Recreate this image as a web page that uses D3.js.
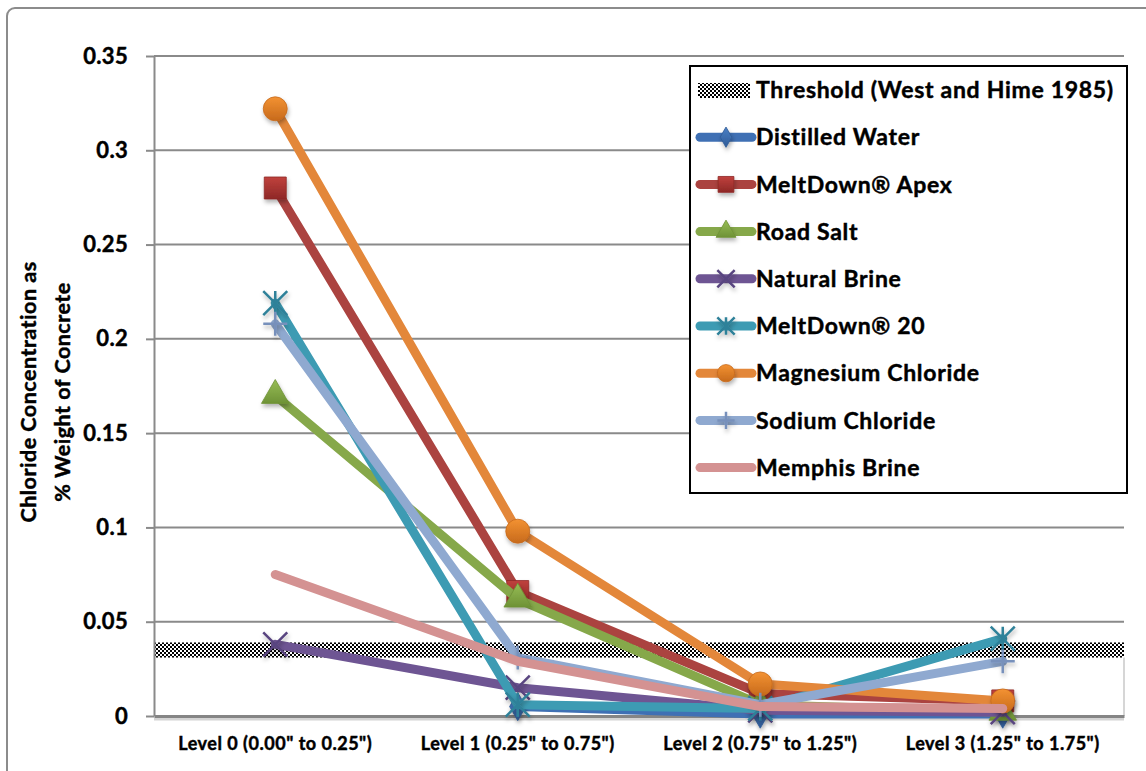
<!DOCTYPE html>
<html>
<head>
<meta charset="utf-8">
<script src="https://cdn.jsdelivr.net/npm/d3@7"></script>
<style>
  html, body { margin: 0; padding: 0; background: #fff; }
  svg { display: block; font-family: Lato, "Open Sans", sans-serif; font-weight: 700; }
  svg text { stroke: #000; stroke-width: 0.45px; }
</style>
</head>
<body>
<svg id="chart" width="1146" height="771"></svg>
<script>
// ---- data ----
const categories = ['Level 0 (0.00" to 0.25")', 'Level 1 (0.25" to 0.75")', 'Level 2 (0.75" to 1.25")', 'Level 3 (1.25" to 1.75")'];
const yTicks = [0, 0.05, 0.1, 0.15, 0.2, 0.25, 0.3, 0.35];
const thresholdBand = [0.031, 0.039];

const seriesNames = ["Distilled Water", "MeltDown® Apex", "Road Salt", "Natural Brine", "MeltDown® 20", "Magnesium Chloride", "Sodium Chloride", "Memphis Brine"];
const distilledWater    = [null, 0.005, 0.001, 0.001];
const meltDownApex      = [0.280, 0.066, 0.012, 0.008];
const roadSalt          = [0.170, 0.062, 0.006, 0.002];
const naturalBrine      = [0.038, 0.015, 0.003, 0.002];
const meltDown20        = [0.219, 0.006, 0.004, 0.041];
const magnesiumChloride = [0.322, 0.098, 0.017, 0.008];
const sodiumChloride    = [0.208, 0.031, 0.006, 0.029];
const memphisBrine      = [0.075, 0.029, 0.005, 0.004];
const seriesValues = [distilledWater, meltDownApex, roadSalt, naturalBrine, meltDown20, magnesiumChloride, sodiumChloride, memphisBrine];

// ---- styling ----
const lineColors = ["#3f70b4", "#ab4340", "#86a84a", "#6e5593", "#3d9bb3", "#e3873a", "#8fa9d0", "#d49292"];
const markerTop  = ["#4a80c6", "#c0413d", "#97bd55", "#7a60a2", "#4aaec8", "#f39232", "#9db7dc", "#dfa0a0"];
const markerBot  = ["#2f5b96", "#8e2826", "#6e9236", "#594480", "#2f8199", "#c76a1c", "#7790bb", "#c07f7f"];
const markerTypes = ["diamond", "square", "triangle", "x", "star", "circle", "plus", "dash"];

const svg = d3.select("#chart");
const plot = { left: 154, right: 1124, top: 56, bottom: 716 };

const defs = svg.append("defs");
const pat = defs.append("pattern").attr("id", "checker")
  .attr("patternUnits", "userSpaceOnUse").attr("width", 4).attr("height", 4);
pat.append("rect").attr("width", 4).attr("height", 4).attr("fill", "#fff");
pat.append("rect").attr("x", 0).attr("y", 0).attr("width", 2).attr("height", 2).attr("fill", "#000");
pat.append("rect").attr("x", 2).attr("y", 2).attr("width", 2).attr("height", 2).attr("fill", "#000");

const shadow = defs.append("filter").attr("id", "shadow")
  .attr("x", "-50%").attr("y", "-50%").attr("width", "200%").attr("height", "200%");
shadow.append("feDropShadow").attr("dx", 1).attr("dy", 3).attr("stdDeviation", 2)
  .attr("flood-color", "#000").attr("flood-opacity", 0.3);

seriesNames.forEach((n, i) => {
  const g = defs.append("linearGradient").attr("id", "grad" + i)
    .attr("x1", 0).attr("y1", 0).attr("x2", 0).attr("y2", 1);
  g.append("stop").attr("offset", "0%").attr("stop-color", markerTop[i]);
  g.append("stop").attr("offset", "100%").attr("stop-color", markerBot[i]);
});

// outer chart frame
svg.append("rect").attr("x", 7).attr("y", 8).attr("width", 1250).attr("height", 850)
  .attr("rx", 8).attr("fill", "#fff").attr("stroke", "#8c8c8c").attr("stroke-width", 2);

// ---- scales ----
const x = d3.scaleBand().domain(categories).range([plot.left, plot.right]);
const cx = c => x(c) + x.bandwidth() / 2;
const y = d3.scaleLinear().domain([0, 0.35]).range([plot.bottom, plot.top]);

// gridlines
svg.append("g").selectAll("line").data(yTicks.filter(t => t > 0)).join("line")
  .attr("x1", plot.left).attr("x2", plot.right)
  .attr("y1", d => y(d)).attr("y2", d => y(d))
  .attr("stroke", "#8a8a8a").attr("stroke-width", 2);

// threshold band and the area below it
svg.append("rect").attr("x", plot.left).attr("y", y(thresholdBand[0]))
  .attr("width", plot.right - plot.left).attr("height", y(0) - y(thresholdBand[0]))
  .attr("fill", "#fff");
svg.append("line").attr("x1", plot.right).attr("x2", plot.right)
  .attr("y1", y(thresholdBand[0])).attr("y2", y(0))
  .attr("stroke", "#c8c8c8").attr("stroke-width", 1.5);
svg.append("rect").attr("x", plot.left).attr("y", y(thresholdBand[1]))
  .attr("width", plot.right - plot.left).attr("height", y(thresholdBand[0]) - y(thresholdBand[1]))
  .attr("fill", "url(#checker)");

// y axis
const yAxis = svg.append("g").attr("transform", `translate(${plot.left},0)`)
  .call(d3.axisLeft(y).tickValues(yTicks).tickFormat(d3.format("~g")).tickSize(8).tickSizeOuter(0).tickPadding(18));
yAxis.select(".domain").attr("stroke", "#8a8a8a").attr("stroke-width", 2);
yAxis.selectAll(".tick line").attr("stroke", "#8a8a8a").attr("stroke-width", 2);
yAxis.selectAll(".tick text").attr("font-family", "Lato").attr("font-weight", 700)
  .attr("font-size", 22).attr("letter-spacing", 0.3).attr("fill", "#000");

// x axis
svg.append("line").attr("x1", plot.left).attr("x2", plot.right)
  .attr("y1", plot.bottom + 3).attr("y2", plot.bottom + 3)
  .attr("stroke", "#d4d4d4").attr("stroke-width", 3);
const xAxis = svg.append("g").attr("transform", `translate(0,${plot.bottom})`)
  .call(d3.axisBottom(x).tickSize(0).tickPadding(21));
xAxis.select(".domain").attr("stroke", "#858585").attr("stroke-width", 3);
xAxis.selectAll(".tick text").attr("font-family", "Lato").attr("font-weight", 700)
  .attr("font-size", 18).attr("letter-spacing", 0.5).attr("fill", "#000");

// y axis title
const yt = svg.append("text").attr("transform", "translate(46,392) rotate(-90)")
  .attr("text-anchor", "middle").attr("font-size", 21.5).attr("letter-spacing", 0.5).attr("fill", "#000");
yt.append("tspan").attr("x", 0).attr("y", -10).text("Chloride Concentration as");
yt.append("tspan").attr("x", 0).attr("y", 24).text("% Weight of Concrete");

// ---- markers ----
function drawMarker(g, type, i, px, py, s) {
  const fill = `url(#grad${i})`;
  const sym = (t, area) => g.append("path").attr("d", d3.symbol(t, area)())
    .attr("transform", `translate(${px},${py})`).attr("fill", fill)
    .attr("stroke", markerBot[i]).attr("stroke-width", 0.8).attr("filter", "url(#shadow)");
  const r = 12 * s;
  if (type === "diamond") sym(d3.symbolDiamond, 230 * s * s);
  else if (type === "square") sym(d3.symbolSquare, 484 * s * s);
  else if (type === "triangle") sym(d3.symbolTriangle, 330 * s * s);
  else if (type === "circle") sym(d3.symbolCircle, 452 * s * s);
  else {
    let d = "";
    if (type === "x" || type === "star") d += `M${-r},${-r}L${r},${r}M${-r},${r}L${r},${-r}`;
    if (type === "star" || type === "plus") d += `M0,${-r}L0,${r}`;
    if (type === "plus") d += `M${-r},0L${r},0`;
    if (type === "dash") d += `M${-4 * s},0L${4 * s},0`;
    g.append("path").attr("d", d).attr("transform", `translate(${px},${py})`)
      .attr("fill", "none").attr("stroke", markerBot[i]).attr("stroke-width", 2.5)
      .attr("filter", "url(#shadow)");
  }
}

// ---- series ----
const line = d3.line().defined(d => d.v != null).x(d => cx(d.c)).y(d => y(d.v));
seriesValues.forEach((vals, i) => {
  const pts = vals.map((v, k) => ({ c: categories[k], v }));
  const g = svg.append("g");
  g.append("path").attr("d", line(pts)).attr("fill", "none")
    .attr("stroke", lineColors[i]).attr("stroke-width", 9)
    .attr("stroke-linecap", "round").attr("stroke-linejoin", "round");
  pts.filter(p => p.v != null).forEach(p => drawMarker(g, markerTypes[i], i, cx(p.c), y(p.v), 1));
});

// ---- legend ----
const lg = svg.append("g");
lg.append("rect").attr("x", 690).attr("y", 66).attr("width", 437).attr("height", 427)
  .attr("fill", "#fff").attr("stroke", "#000").attr("stroke-width", 2);
const rowY = k => 90 + k * 47.2;
lg.append("rect").attr("x", 698).attr("y", rowY(0) - 7).attr("width", 52).attr("height", 15)
  .attr("fill", "url(#checker)");
lg.append("text").attr("x", 756).attr("y", rowY(0)).attr("dy", "0.36em")
  .attr("font-size", 23).attr("letter-spacing", 0.7).attr("fill", "#000").text("Threshold (West and Hime 1985)");
seriesNames.forEach((n, i) => {
  const yy = rowY(i + 1);
  lg.append("line").attr("x1", 700).attr("x2", 752).attr("y1", yy).attr("y2", yy)
    .attr("stroke", lineColors[i]).attr("stroke-width", 9).attr("stroke-linecap", "round");
  drawMarker(lg, markerTypes[i], i, 726, yy, 0.72);
  lg.append("text").attr("x", 756).attr("y", yy).attr("dy", "0.36em")
    .attr("font-size", 23).attr("letter-spacing", 0.7).attr("fill", "#000").text(n);
});
</script>
</body>
</html>
